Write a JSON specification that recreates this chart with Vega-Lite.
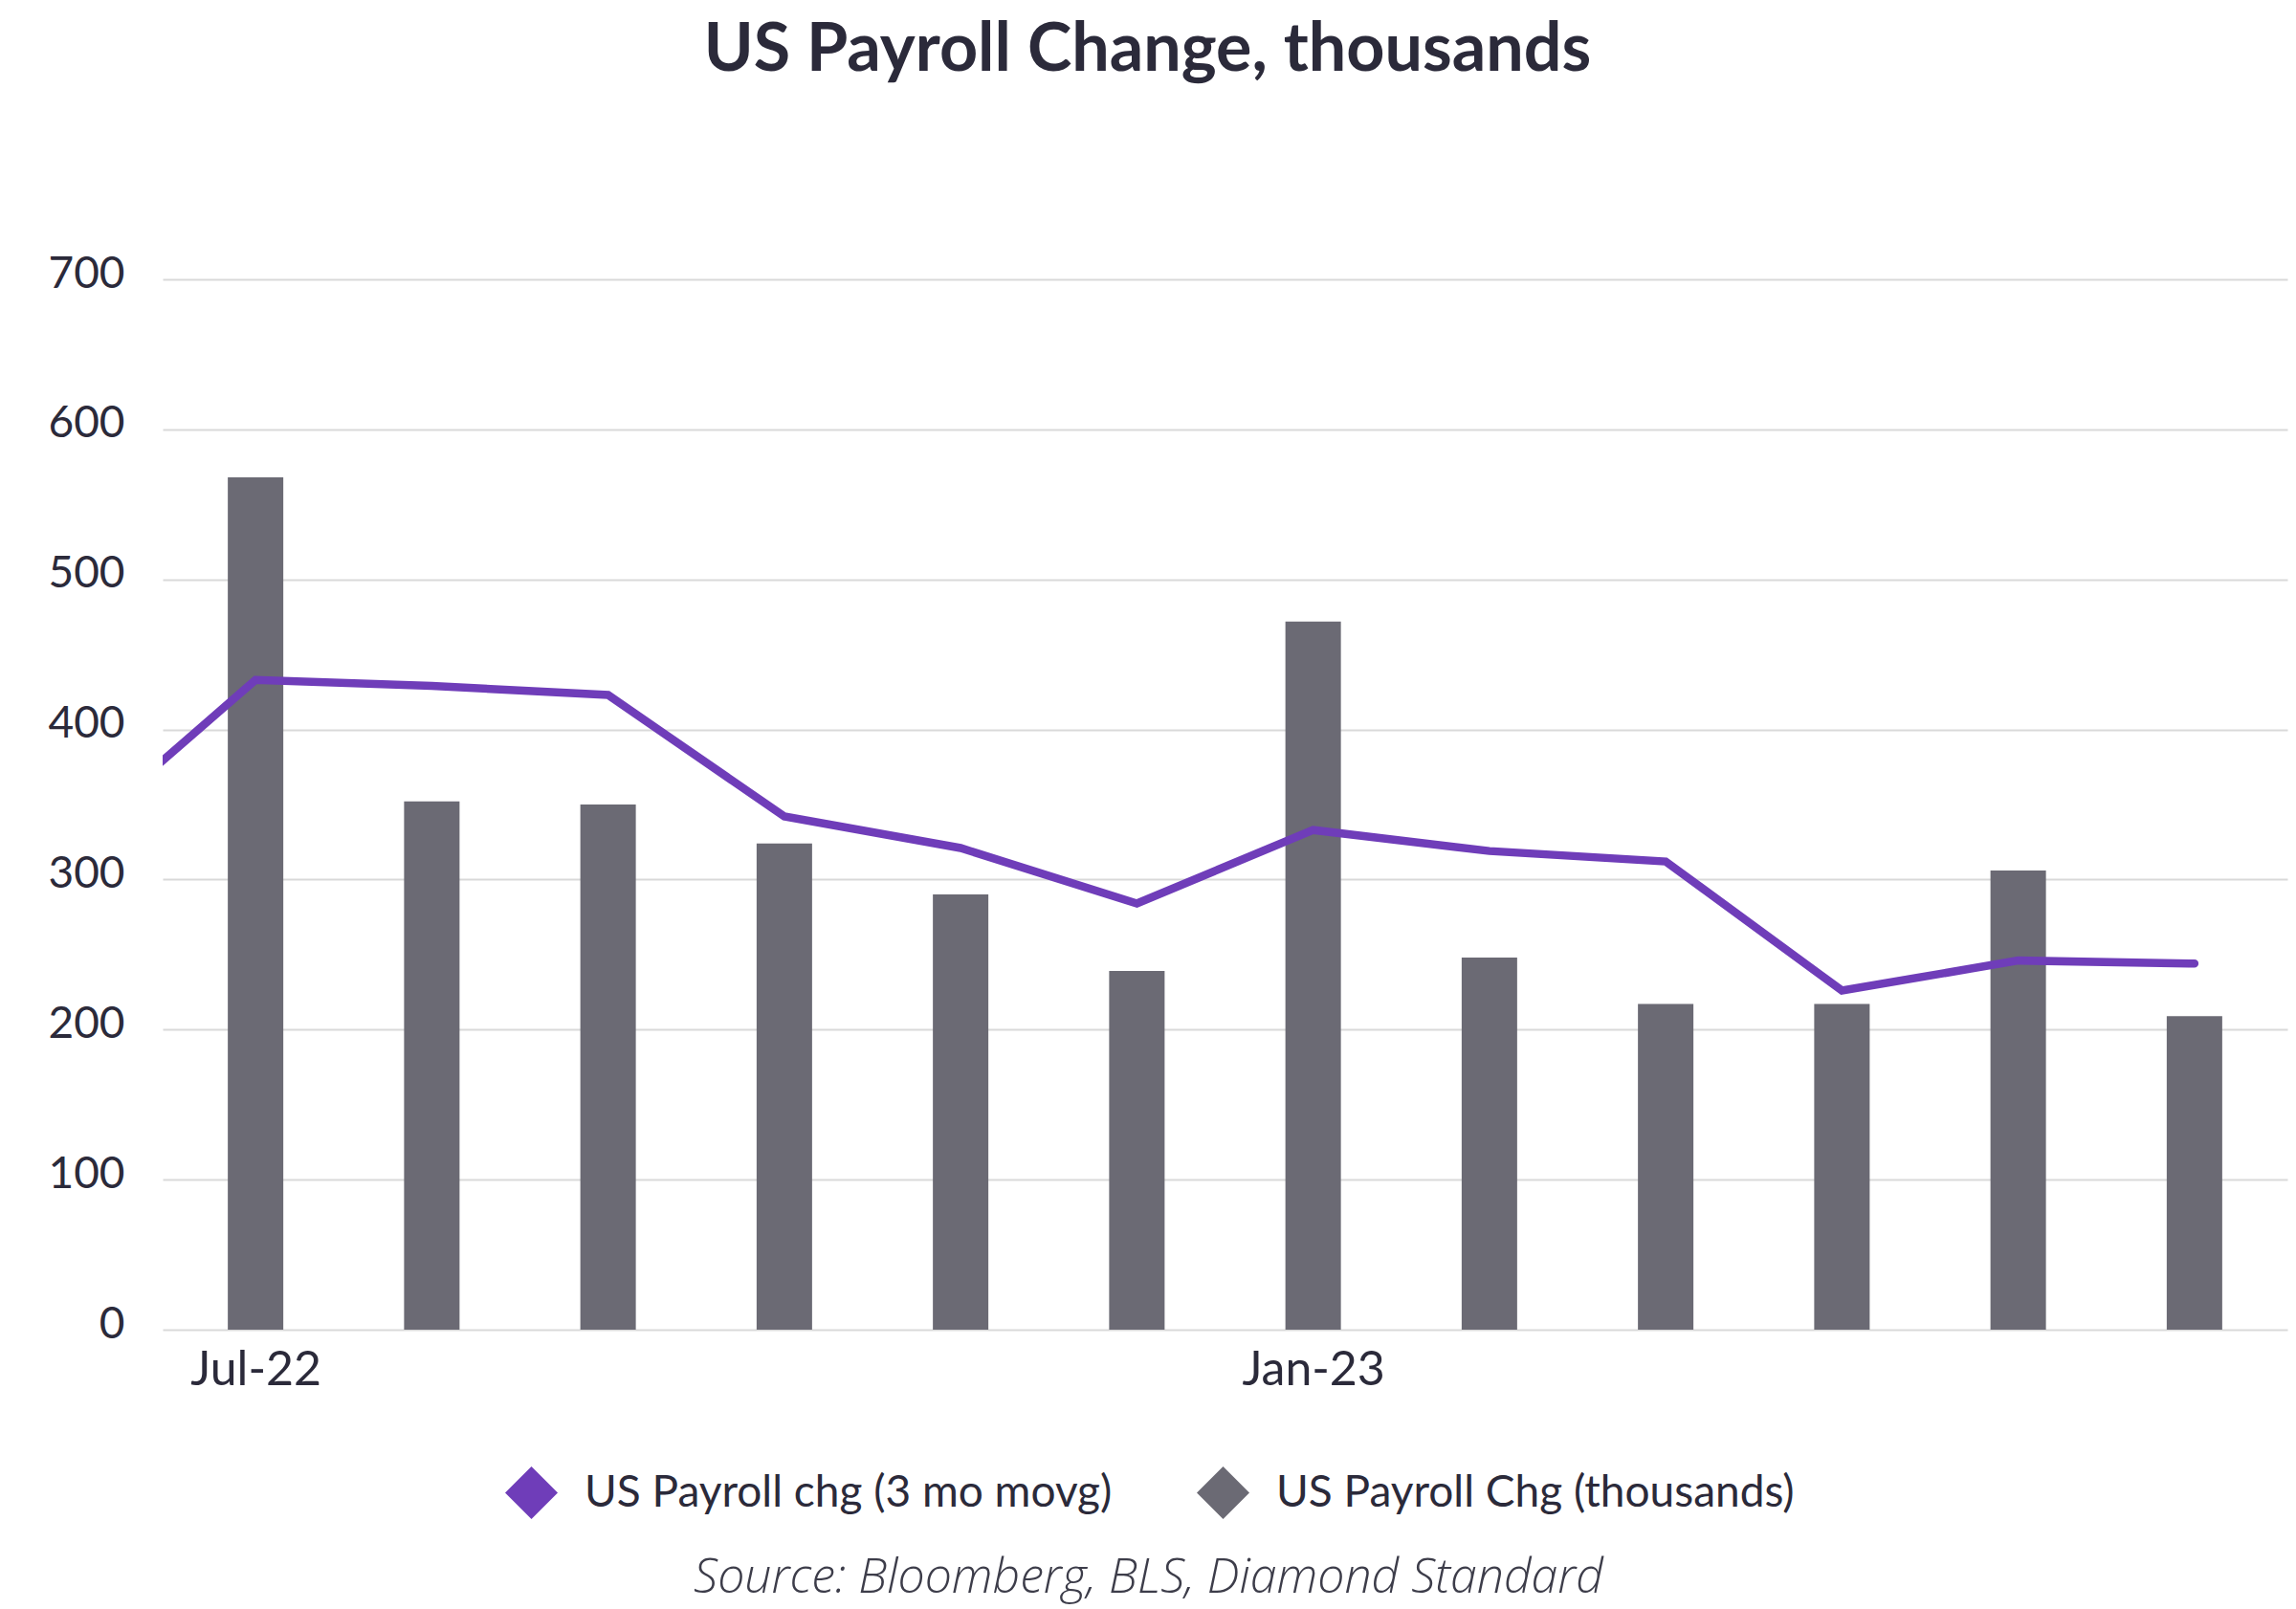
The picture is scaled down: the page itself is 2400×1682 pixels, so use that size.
{
  "$schema": "https://vega.github.io/schema/vega-lite/v6.json",
  "width": 2221,
  "height": 1098,
  "autosize": {"type": "none"},
  "padding": {"left": 170, "top": 292, "right": 9, "bottom": 292},
  "background": "white",
  "title": {
    "text": "US Payroll Change, thousands",
    "font": "Lato",
    "fontSize": 70,
    "fontWeight": "bold",
    "color": "#2b2a3a",
    "anchor": "middle",
    "frame": "group",
    "dx": -81,
    "offset": 174
  },
  "config": {
    "view": {"stroke": null},
    "font": "Lato"
  },
  "data": {
    "values": [
      {"i": -1, "month": "Jun-22", "payroll": null, "avg": 331},
      {"i": 0, "month": "Jul-22", "payroll": 568, "avg": 433},
      {"i": 1, "month": "Aug-22", "payroll": 352, "avg": 429},
      {"i": 2, "month": "Sep-22", "payroll": 350, "avg": 423},
      {"i": 3, "month": "Oct-22", "payroll": 324, "avg": 342},
      {"i": 4, "month": "Nov-22", "payroll": 290, "avg": 321},
      {"i": 5, "month": "Dec-22", "payroll": 239, "avg": 284},
      {"i": 6, "month": "Jan-23", "payroll": 472, "avg": 333},
      {"i": 7, "month": "Feb-23", "payroll": 248, "avg": 319},
      {"i": 8, "month": "Mar-23", "payroll": 217, "avg": 312},
      {"i": 9, "month": "Apr-23", "payroll": 217, "avg": 226},
      {"i": 10, "month": "May-23", "payroll": 306, "avg": 246},
      {"i": 11, "month": "Jun-23", "payroll": 209, "avg": 244}
    ]
  },
  "encoding": {
    "x": {
      "field": "i",
      "type": "quantitative",
      "scale": {"domain": [-0.5, 11.5], "nice": false, "zero": false},
      "axis": {
        "values": [0, 6],
        "labelExpr": "datum.value == 0 ? 'Jul-22' : 'Jan-23'",
        "grid": false,
        "domain": false,
        "ticks": false,
        "labelFont": "Lato",
        "labelFontSize": 50,
        "labelColor": "#2b2a3a",
        "labelPadding": 17,
        "title": "Source: Bloomberg, BLS, Diamond Standard",
        "titleFont": "Open Sans",
        "titleFontSize": 50,
        "titleFontStyle": "italic",
        "titleFontWeight": 300,
        "titleColor": "#3d3d4a",
        "titleX": 1030,
        "titleY": 259,
        "titleAnchor": "middle",
        "titleAlign": "center",
        "titleBaseline": "middle"
      }
    }
  },
  "layer": [
    {
      "mark": {"type": "bar", "size": 58, "clip": true},
      "encoding": {
        "y": {
          "field": "payroll",
          "type": "quantitative",
          "scale": {"domain": [0, 700], "nice": false},
          "axis": {
            "values": [0, 100, 200, 300, 400, 500, 600, 700],
            "title": null,
            "domain": false,
            "ticks": false,
            "grid": true,
            "gridColor": "#d9d9d9",
            "gridWidth": 2,
            "labelFont": "Lato",
            "labelFontSize": 46,
            "labelColor": "#2b2a3a",
            "labelPadding": 40,
            "labelOffset": -6
          }
        },
        "color": {
          "datum": "US Payroll Chg (thousands)",
          "type": "nominal",
          "scale": {
            "domain": ["US Payroll chg (3 mo movg)", "US Payroll Chg (thousands)"],
            "range": ["#6f3db9", "#6b6a74"]
          },
          "legend": {
            "title": null,
            "orient": "none",
            "direction": "horizontal",
            "legendX": 358,
            "legendY": 1241,
            "symbolType": "diamond",
            "symbolSize": 3025,
            "labelFont": "Lato",
            "labelFontSize": 46,
            "labelColor": "#2b2a3a",
            "labelOffset": 28,
            "columnPadding": 88,
            "labelLimit": 1000,
            "encode": {
              "symbols": {
                "update": {
                  "fill": {"scale": "color", "field": "value"},
                  "stroke": {"value": "transparent"},
                  "strokeWidth": {"value": 0},
                  "opacity": {"value": 1}
                }
              }
            }
          }
        }
      }
    },
    {
      "mark": {"type": "line", "strokeWidth": 8.5, "clip": true, "strokeCap": "round"},
      "encoding": {
        "y": {"field": "avg", "type": "quantitative"},
        "color": {"datum": "US Payroll chg (3 mo movg)", "type": "nominal"}
      }
    }
  ]
}
